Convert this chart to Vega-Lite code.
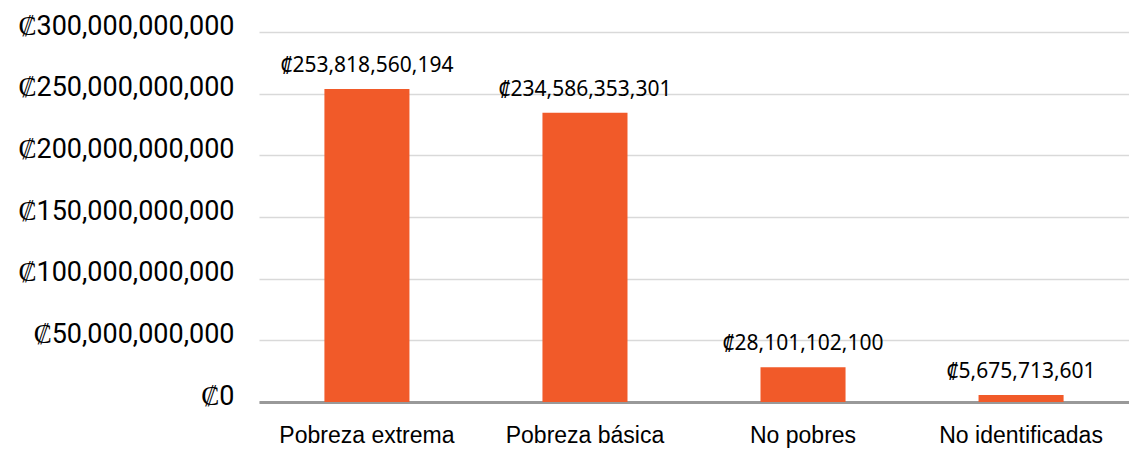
{
  "$schema": "https://vega.github.io/schema/vega-lite/v6.json",
  "autosize": {"type": "none"},
  "padding": {"left": 259, "top": 32, "right": 0, "bottom": 53},
  "width": 870,
  "height": 370,
  "background": "white",
  "data": {"values": [
    {"categoria": "Pobreza extrema", "monto": 253818560194},
    {"categoria": "Pobreza básica", "monto": 234586353301},
    {"categoria": "No pobres", "monto": 28101102100},
    {"categoria": "No identificadas", "monto": 5675713601}
  ]},
  "config": {
    "view": {"stroke": null},
    "locale": {"number": {"decimal": ".", "thousands": ",", "grouping": [3], "currency": ["₡", ""]}}
  },
  "encoding": {
    "x": {"field": "categoria", "type": "nominal", "sort": null,
      "scale": {"paddingInner": 0.61, "paddingOuter": 0.3},
      "axis": {"title": null, "labelAngle": 0, "labelFont": "Liberation Sans", "labelFontSize": 23,
        "labelColor": "#000000", "labelPadding": 22, "ticks": false, "labelLimit": 300,
        "domainColor": "#999999", "domainWidth": 3}},
    "y": {"field": "monto", "type": "quantitative",
      "scale": {"domain": [0, 300000000000]},
      "axis": {"title": null, "values": [0, 50000000000, 100000000000, 150000000000, 200000000000, 250000000000, 300000000000],
        "format": "$,.0f", "labelOverlap": false, "labelLimit": 400,
        "labelFont": "Roboto", "labelFontSize": 27, "labelColor": "#000000",
        "labelPadding": 25, "labelOffset": -6, "ticks": false, "domain": false,
        "gridColor": "#d9d9d9", "gridWidth": 1.5}}
  },
  "layer": [
    {"mark": {"type": "bar", "color": "#F15A29"}},
    {"mark": {"type": "text", "baseline": "bottom", "dy": -13, "font": "Noto Sans", "fontSize": 21, "color": "#000000"},
      "encoding": {"text": {"field": "monto", "type": "quantitative", "format": "$,.0f"}}}
  ]
}
